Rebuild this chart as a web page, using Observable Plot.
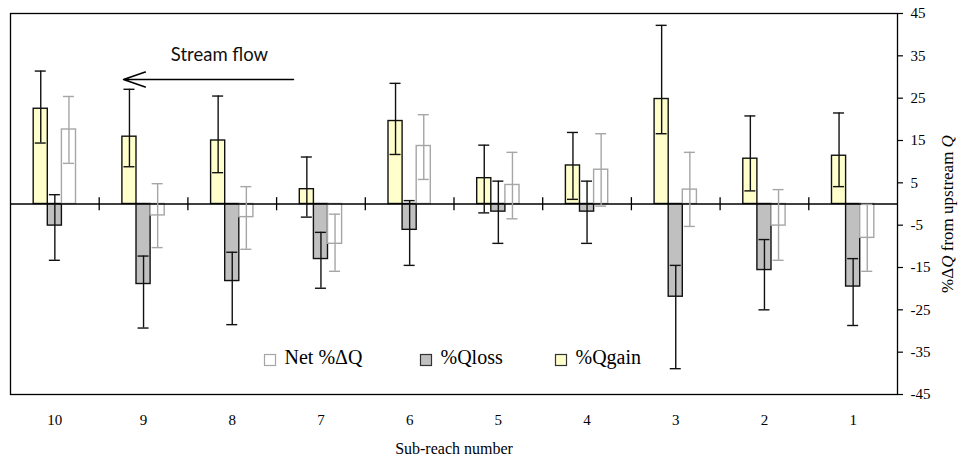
<!DOCTYPE html>
<html>
<head>
<meta charset="utf-8">
<script src="https://cdn.jsdelivr.net/npm/d3@7"></script>
<script src="https://cdn.jsdelivr.net/npm/@observablehq/plot@0.6"></script>
<style>
  body { margin: 0; background: #fff; }
  #wrap { position: relative; width: 964px; height: 463px; }
</style>
</head>
<body>
<div id="wrap"></div>
<script>
// ---- data ----
const reaches = [10, 9, 8, 7, 6, 5, 4, 3, 2, 1];

const gain   = [22.5, 15.9, 15.0, 3.5, 19.6, 6.1, 9.1, 24.8, 10.7, 11.4];
const gainHi = [31.4, 27.1, 25.5, 11.1, 28.5, 13.9, 16.9, 42.2, 20.8, 21.5];
const gainLo = [14.4, 8.8, 7.4, -3.1, 11.7, -2.1, 1.1, 16.6, 3.1, 4.1];

const loss   = [-5.1, -18.9, -18.2, -13.0, -6.1, -1.8, -1.8, -21.9, -15.6, -19.5];
const lossHi = [2.2, -12.3, -11.4, -6.7, 0.8, 5.4, 5.4, -14.5, -8.4, -12.9];
const lossLo = [-13.3, -29.3, -28.5, -19.9, -14.5, -9.3, -9.3, -38.9, -25.0, -28.7];

const net    = [17.6, -2.7, -3.1, -9.4, 13.7, 4.5, 8.1, 3.4, -5.1, -8.0];
const netHi  = [25.4, 4.8, 4.1, -2.4, 21.1, 12.2, 16.6, 12.2, 3.4, -0.1];
const netLo  = [9.6, -10.3, -10.7, -15.9, 5.8, -3.5, -0.5, -5.3, -13.3, -15.9];

const yTicks = [45, 35, 25, 15, 5, -5, -15, -25, -35, -45];
const seriesNames = ["Net %ΔQ", "%Qloss", "%Qgain"];

// ---- layout / style ----
const SERIF = "'Liberation Serif', 'Times New Roman', serif";
const barW = 0.159;   // bar width in sub-reach units
const capW = 0.062;   // half width of error-bar caps
const series = [
  {name: "%Qgain",  v: gain, hi: gainHi, lo: gainLo, slot: 1,  fill: "#FFFFCC", stroke: "#111", err: "#111"},
  {name: "%Qloss",  v: loss, hi: lossHi, lo: lossLo, slot: 0,  fill: "#C0C0C0", stroke: "#111", err: "#111"},
  {name: "Net %ΔQ", v: net,  hi: netHi,  lo: netLo,  slot: -1, fill: "#FFFFFF", stroke: "#A6A6A6", err: "#A6A6A6"}
];

const marks = [];
for (const s of series) {
  const rows = reaches.map((r, i) => ({c: r + s.slot * barW, v: s.v[i], hi: s.hi[i], lo: s.lo[i]}));
  marks.push(Plot.rect(rows, {x1: d => d.c - barW / 2, x2: d => d.c + barW / 2, y1: 0, y2: "v",
    fill: s.fill, stroke: s.stroke, strokeWidth: 1.4}));
  s.rows = rows;
}
marks.push(Plot.ruleY([0], {stroke: "#000", strokeWidth: 1.4}));
marks.push(Plot.ruleX(reaches.slice(1).map(r => r + 0.5), {y1: -1.6, y2: 1.5, stroke: "#000", strokeWidth: 1.3}));
for (const s of series) {
  marks.push(Plot.ruleX(s.rows, {x: "c", y1: "lo", y2: "hi", stroke: s.err, strokeWidth: 1.4}));
  marks.push(Plot.ruleY(s.rows, {y: "hi", x1: d => d.c - capW, x2: d => d.c + capW, stroke: s.err, strokeWidth: 1.4}));
  marks.push(Plot.ruleY(s.rows, {y: "lo", x1: d => d.c - capW, x2: d => d.c + capW, stroke: s.err, strokeWidth: 1.4}));
}
// annotation
marks.push(Plot.text(["Stream flow"], {x: 8.144, y: 35.2, text: d => d, fontFamily: "Lato, 'Open Sans', sans-serif", fontSize: 18.5, fill: "#111", textAnchor: "middle", lineAnchor: "middle"}));
marks.push(Plot.arrow([{}], {x1: 7.31, x2: 9.226, y1: 29.4, y2: 29.4, stroke: "#000", strokeWidth: 1.5, headLength: 23, headAngle: 38}));
marks.push(Plot.frame({stroke: "#000", strokeWidth: 1.3}));
marks.push(Plot.axisX(reaches, {anchor: "bottom", tickSize: 0, tickPadding: 20, fontSize: 15, label: null, tickFormat: d => String(d)}));
marks.push(Plot.axisY(yTicks, {anchor: "right", tickSize: 5, tickPadding: 8, fontSize: 15, label: null, tickFormat: d => String(d), strokeWidth: 1.2}));
marks.push(Plot.text(["Sub-reach number"], {frameAnchor: "bottom", dy: 54, lineAnchor: "middle", fontSize: 16, text: d => d, fill: "#000"}));

const chart = Plot.plot({
  width: 964,
  height: 463,
  marginLeft: 10,
  marginRight: 67,
  marginTop: 13,
  marginBottom: 69,
  style: {fontFamily: SERIF, fontSize: "15px", color: "#000", background: "#fff"},
  x: {type: "linear", domain: [10.5, 0.5]},
  y: {type: "linear", domain: [-45, 45]},
  marks
});

const ns = "http://www.w3.org/2000/svg";
function el(name, attrs) {
  const e = document.createElementNS(ns, name);
  for (const k in attrs) e.setAttribute(k, attrs[k]);
  return e;
}

// rotated right-axis title with italic Q
const t = el("text", {transform: "translate(947,214) rotate(-90)", "text-anchor": "middle", dy: "0.35em",
  "font-size": 17, "font-family": SERIF, fill: "#000"});
const parts = [["%Δ", false], ["Q", true], [" from upstream ", false], ["Q", true]];
for (const [str, it] of parts) {
  const sp = el("tspan", it ? {"font-style": "italic"} : {});
  sp.textContent = str;
  t.appendChild(sp);
}
chart.appendChild(t);

// legend inside the plot area, as in the reference
const legendItems = [
  {name: seriesNames[0], left: 264.5, fill: "#FFFFFF", stroke: "#A6A6A6"},
  {name: seriesNames[1], left: 420.5, fill: "#C0C0C0", stroke: "#333"},
  {name: seriesNames[2], left: 555.5, fill: "#FFFFCC", stroke: "#333"}
];
const lg = el("g", {"font-family": SERIF, "font-size": 20, fill: "#000", "text-anchor": "start"});
for (const it of legendItems) {
  lg.appendChild(el("rect", {x: it.left, y: 354.5, width: 11, height: 11, fill: it.fill, stroke: it.stroke, "stroke-width": 1.2}));
  const tx = el("text", {x: it.left + 20, y: 364, "text-anchor": "start"});
  tx.textContent = it.name;
  lg.appendChild(tx);
}
chart.appendChild(lg);

document.getElementById("wrap").appendChild(chart);
</script>
</body>
</html>
